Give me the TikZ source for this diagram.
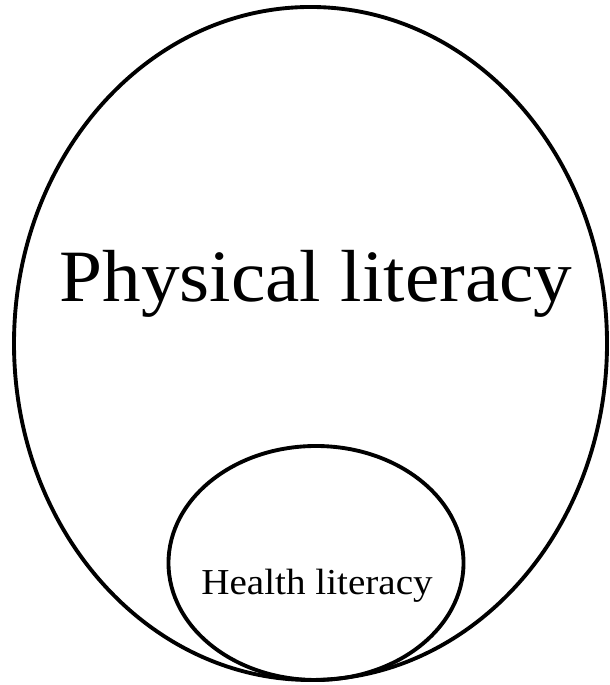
\documentclass[tikz,border=0pt]{standalone}
\usepackage{fontspec}
\setmainfont{Liberation Serif}
\usepackage{graphicx}
\usepackage{tikz}
\tikzset{ring/.style={draw=black, line width=1.1pt}}
\def\bigtext#1{\scalebox{1.047}[1]{\fontsize{21pt}{25pt}\selectfont #1}}
\def\smalltext#1{\scalebox{1.07}[1]{\fontsize{10.4pt}{12pt}\selectfont #1}}

\begin{document}
\begin{tikzpicture}
          \useasboundingbox (0,0) rectangle (6.09,6.85);
          % outer and inner sets, touching at the bottom
          \draw[ring] (3.105,3.415) ellipse [x radius=2.965cm, y radius=3.365cm];
          \draw[ring] (3.16,1.22) ellipse [x radius=1.475cm, y radius=1.17cm];

          \node[anchor=base, inner sep=0pt] (phys) at (3.16,3.83) {\bigtext{Physical literacy}};
          \node[anchor=base, inner sep=0pt] (health) at (3.17,0.90) {\smalltext{Health literacy}};
        \end{tikzpicture}
\end{document}
